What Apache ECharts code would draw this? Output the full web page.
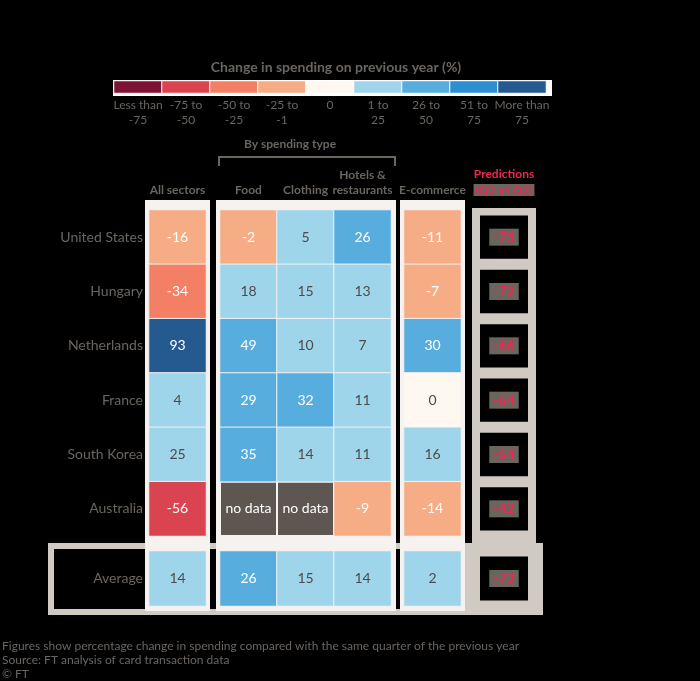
<!DOCTYPE html>
<html><head><meta charset="utf-8">
<script src="https://cdn.jsdelivr.net/npm/echarts@6/dist/echarts.min.js"></script>
<style>html,body{margin:0;padding:0;background:#000;}#c{width:700px;height:681px;}</style>
</head><body><div id="c"></div><script>
// ---- data ----
const rows = ['United States', 'Hungary', 'Netherlands', 'France', 'South Korea', 'Australia'];
const totalRow = ['Average'];
const colAll = ['All sectors'];
const colTypes = ['Food', 'Clothing', 'Hotels &\nrestaurants'];
const colOnline = ['E-commerce'];
const colPred = ['Predictions'];
const allValues = [-16, -34, 93, 4, 25, -56];
const typeValues = [[-2, 5, 26], [18, 15, 13], [49, 10, 7], [29, 32, 11], [35, 14, 11], [null, null, -9]];
const onlineValues = [-11, -7, 30, 0, 16, -14];
const predValues = [-73, -72, -66, -64, -54, -42];
const totalAll = [14];
const totalTypes = [26, 15, 14];
const totalOnline = [2];
const totalPred = [-73];
const legendLabels = ['Less than\n-75', '-75 to\n-50', '-50 to\n-25', '-25 to\n-1', '0', '1 to\n25', '26 to\n50', '51 to\n75', 'More than\n75'];
const legendSample = [-90, -60, -40, -10, 0, 10, 40, 60, 90];
const titleText = 'Change in spending on previous year (%)';
const groupText = 'By spending type';
const footerText = 'Figures show percentage change in spending compared with the same quarter of the previous year\nSource: FT analysis of card transaction data\n© FT';

// ---- style ----
const GRAY = '#6b6560';
const DARK = '#4e4a47';
const RED = '#ec2a50';
const PANEL = '#f5f2ef';
const FRAME = '#d1cac3';
const FONT = 'Lato';
const colors = ['#7f1335', '#d94450', '#f37f64', '#f6ad86', '#fff8f1', '#9fd5ea', '#58addf', '#2b8fd1', '#245a90'];

function txtColor(v) { return (v >= 0 && v <= 25) ? DARK : '#fff'; }
function cell(x, y, v) { return { value: [x, y, v], label: { color: txtColor(v) } }; }

const mainTop = 210, mainH = 326, totTop = 551, totH = 55;
const gridsX = [[149, 57], [220, 171], [404, 57], [472, 64]];
const grid = [{ left: 114, top: 81, width: 432, height: 12 }];
gridsX.forEach(g => grid.push({ left: g[0], top: mainTop, width: g[1], height: mainH }));
gridsX.forEach(g => grid.push({ left: g[0], top: totTop, width: g[1], height: totH }));

const hidden = { axisLine: { show: false }, axisTick: { show: false }, splitLine: { show: false } };
const xAxis = [], yAxis = [];
xAxis.push(Object.assign({ type: 'category', gridIndex: 0, data: legendLabels, position: 'bottom',
  axisLabel: { color: GRAY, fontFamily: FONT, fontSize: 12, lineHeight: 15, margin: 5, interval: 0 } }, hidden));
yAxis.push(Object.assign({ type: 'category', gridIndex: 0, data: [''], axisLabel: { show: false } }, hidden));
const headerCats = [colAll, colTypes, colOnline, colPred];
headerCats.forEach((cats, i) => {
  const isPred = i === 3;
  xAxis.push(Object.assign({ type: 'category', gridIndex: 1 + i, data: cats, position: 'top',
    axisLabel: isPred ? {
      interval: 0, margin: 12, fontFamily: FONT,
      formatter: () => '{a|Predictions}\n{b|(Q3 vs Q2)}',
      rich: { a: { color: RED, fontSize: 12, fontWeight: 'bold', fontFamily: FONT, lineHeight: 16 },
              b: { color: RED, fontSize: 12, fontWeight: 'bold', fontFamily: FONT, lineHeight: 16, backgroundColor: GRAY, padding: [0, 2] } }
    } : { interval: 0, margin: 12, color: GRAY, fontFamily: FONT, fontSize: 12, fontWeight: 'bold', lineHeight: 15 } }, hidden));
  yAxis.push(Object.assign({ type: 'category', gridIndex: 1 + i, data: rows, inverse: true,
    axisLabel: { show: i === 0, color: GRAY, fontFamily: FONT, fontSize: 14, margin: 6 } }, hidden));
});
headerCats.forEach((cats, i) => {
  xAxis.push(Object.assign({ type: 'category', gridIndex: 5 + i, data: cats, axisLabel: { show: false } }, hidden));
  yAxis.push(Object.assign({ type: 'category', gridIndex: 5 + i, data: totalRow, inverse: true,
    axisLabel: { show: i === 0, color: GRAY, fontFamily: FONT, fontSize: 14, margin: 6 } }, hidden));
});

const cellLabel = { show: true, formatter: p => String(p.value[2]), fontFamily: FONT, fontSize: 14 };
const heat = (gi, data, border) => ({
  type: 'heatmap', xAxisIndex: gi, yAxisIndex: gi, data: data, label: cellLabel,
  itemStyle: { borderColor: border || PANEL, borderWidth: 1 }, emphasis: { disabled: true }
});

const typeData = [], noData = [];
typeValues.forEach((r, ri) => r.forEach((v, ci) => { if (v === null) noData.push([ci, ri]); else typeData.push(cell(ci, ri, v)); }));

function predRender(params, api) {
  const c = api.coord([api.value(0), api.value(1)]);
  const s = api.size([1, 1]);
  const h = s[1] - 11;
  return {
    type: 'rect', shape: { x: c[0] - 24, y: c[1] - h / 2, width: 48, height: h }, style: { fill: '#000' },
    textContent: { style: { text: String(api.value(2)), fill: RED, font: 'bold 14px ' + FONT, backgroundColor: GRAY, padding: [2, 4, 1, 4] } },
    textConfig: { position: 'inside' }
  };
}
function noDataRender(params, api) {
  const c = api.coord([api.value(0), api.value(1)]);
  const s = api.size([1, 1]);
  return {
    type: 'rect', shape: { x: c[0] - s[0] / 2 + 1, y: c[1] - s[1] / 2 + 1, width: s[0] - 2, height: s[1] - 2 }, style: { fill: '#5e5751' },
    textContent: { style: { text: 'no data', fill: '#fff', font: '14px ' + FONT } }, textConfig: { position: 'inside' }
  };
}

const series = [
  Object.assign(heat(0, legendSample.map((v, i) => [i, 0, v]), '#fff'), { label: { show: false } }),
  heat(1, allValues.map((v, i) => cell(0, i, v))),
  heat(2, typeData),
  { type: 'custom', xAxisIndex: 2, yAxisIndex: 2, data: noData, renderItem: noDataRender },
  heat(3, onlineValues.map((v, i) => cell(0, i, v))),
  { type: 'custom', xAxisIndex: 4, yAxisIndex: 4, data: predValues.map((v, i) => [0, i, v]), renderItem: predRender },
  heat(5, totalAll.map((v, i) => cell(i, 0, v))),
  heat(6, totalTypes.map((v, i) => cell(i, 0, v))),
  heat(7, totalOnline.map((v, i) => cell(i, 0, v))),
  { type: 'custom', xAxisIndex: 8, yAxisIndex: 8, data: totalPred.map((v, i) => [0, 0, v]), renderItem: predRender }
];

const chart = echarts.init(document.getElementById('c'), null, { renderer: 'canvas' });
chart.setOption({
  backgroundColor: '#000',
  animation: false,
  title: { text: titleText, left: 331, top: 55, textAlign: 'center',
    textStyle: { color: GRAY, fontFamily: FONT, fontSize: 14, fontWeight: 'bold' } },
  grid: grid, xAxis: xAxis, yAxis: yAxis,
  visualMap: {
    type: 'piecewise', show: false, dimension: 2, seriesIndex: [0, 1, 2, 4, 6, 7, 8],
    pieces: [
      { lt: -75, color: colors[0] }, { gte: -75, lt: -50, color: colors[1] }, { gte: -50, lt: -25, color: colors[2] },
      { gte: -25, lt: 0, color: colors[3] }, { value: 0, color: colors[4] }, { gt: 0, lte: 25, color: colors[5] },
      { gt: 25, lte: 50, color: colors[6] }, { gt: 50, lte: 75, color: colors[7] }, { gt: 75, color: colors[8] }
    ]
  },
  graphic: [
    { type: 'rect', z: 0, shape: { x: 113, y: 80, width: 439, height: 16 }, style: { fill: '#fff' } },
    { type: 'rect', z: 0, shape: { x: 51, y: 546, width: 489, height: 66 }, style: { fill: null, stroke: FRAME, lineWidth: 6 } },
    { type: 'rect', z: 0, shape: { x: 465, y: 543, width: 78, height: 72 }, style: { fill: FRAME } },
    { type: 'rect', z: 0, shape: { x: 472, y: 208, width: 64, height: 337 }, style: { fill: FRAME } },
    { type: 'rect', z: 0, shape: { x: 145, y: 200, width: 65, height: 411 }, style: { fill: PANEL } },
    { type: 'rect', z: 0, shape: { x: 216, y: 200, width: 180, height: 411 }, style: { fill: PANEL } },
    { type: 'rect', z: 0, shape: { x: 400, y: 200, width: 65, height: 411 }, style: { fill: PANEL } },
    { type: 'text', z: 0, x: 290, y: 138, style: { text: groupText, fill: GRAY, font: 'bold 12px ' + FONT, textAlign: 'center' } },
    { type: 'polyline', z: 0, shape: { points: [[219, 166], [219, 157], [395, 157], [395, 166]] }, style: { stroke: GRAY, lineWidth: 2, fill: null } },
    { type: 'text', z: 0, x: 2, y: 639, style: { text: footerText, fill: GRAY, font: '12px ' + FONT, lineHeight: 14 } }
  ],
  series: series
});
</script></body></html>
